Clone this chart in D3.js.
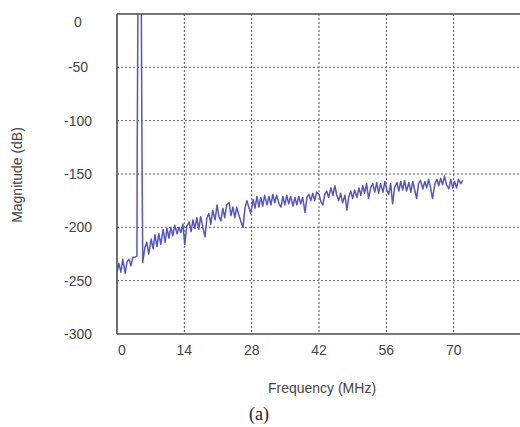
<!DOCTYPE html>
<html>
<head>
<meta charset="utf-8">
<script src="https://cdn.jsdelivr.net/npm/d3@7"></script>
<style>
  html, body { margin: 0; padding: 0; background: #fff; }
  svg { display: block; }
</style>
</head>
<body>
<svg id="chart" width="520" height="427"></svg>
<script>
// ---- data ----
const xTicks = [0, 14, 28, 42, 56, 70];
const yTicks = [0, -50, -100, -150, -200, -250, -300];
const xTitle = "Frequency (MHz)";
const yTitle = "Magnitude (dB)";
const caption = "(a)";

// spectrum: frequency (MHz) and magnitude (dB)
const freq = [
  0, 0.4, 0.8, 1.2, 1.7, 2.1, 2.5, 2.9, 3.3, 3.7, 4.15,
  4.2, 4.35, 5.05, 5.2, 5.35,
  5.4, 5.8, 6.2, 6.6, 7.1, 7.5, 7.9, 8.3, 8.7, 9.1, 9.6, 10.0, 10.4, 10.8, 11.2, 11.6, 12.0, 12.5, 12.9, 13.3, 13.7,
  14.1, 14.5, 15.0, 15.4, 15.8, 16.2, 16.6, 17.0, 17.4, 17.9, 18.3, 18.7, 19.1, 19.5, 19.9, 20.4, 20.8, 21.2, 21.6,
  22.0, 22.4, 22.8, 23.3, 23.7, 24.1, 24.5, 24.9, 25.3, 25.8, 26.2, 26.6, 27.0, 27.4, 27.8,
  28.3, 28.7, 29.1, 29.5, 29.9, 30.3, 30.7, 31.2, 31.6, 32.0, 32.4, 32.8, 33.2, 33.7, 34.1, 34.5, 34.9,
  35.3, 35.7, 36.1, 36.6, 37.0, 37.4, 37.8, 38.2, 38.6, 39.1, 39.5, 39.9, 40.3, 40.7, 41.1, 41.5,
  42.0, 42.4, 42.8, 43.2, 43.6, 44.0, 44.5, 44.9, 45.3, 45.7, 46.1, 46.5, 46.9, 47.4, 47.8, 48.2, 48.6,
  49.0, 49.4, 49.9, 50.3, 50.7, 51.1, 51.5, 51.9, 52.3, 52.8, 53.2, 53.6, 54.0, 54.4, 54.8, 55.3, 55.7,
  56.1, 56.5, 56.9, 57.3, 57.7, 58.2, 58.6, 59.0, 59.4, 59.8, 60.2, 60.7, 61.1, 61.5, 61.9, 62.3, 62.7,
  63.1, 63.6, 64.0, 64.4, 64.8, 65.2, 65.6, 66.1, 66.5, 66.9, 67.3, 67.7, 68.1, 68.5, 69.0, 69.4, 69.8,
  70.2, 70.6, 71.0, 71.5, 71.9
];
const magnitude = [
  -242, -234, -242, -230, -243, -232, -230, -236, -228, -228, -227,
  -130, 8, 8, -130, -233,
  -231, -219, -214, -225, -211, -220, -207, -218, -206, -216, -202, -214, -201, -210, -200, -208, -198, -206, -200, -205, -197,
  -216, -199, -195, -204, -193, -201, -191, -202, -190, -201, -209, -191, -187, -197, -184, -193, -179, -190, -194,
  -182, -191, -179, -177, -189, -181, -191, -181, -188, -195, -200, -182, -175, -181, -187,
  -174, -182, -171, -181, -172, -180, -170, -179, -171, -179, -169, -177, -170, -178, -181, -171, -179,
  -170, -178, -171, -180, -172, -179, -171, -178, -172, -186, -172, -169, -175, -168, -175, -167,
  -169, -176, -179, -169, -166, -172, -163, -170, -161, -170, -175, -168, -177, -170, -184, -171, -166,
  -173, -165, -172, -163, -170, -161, -168, -159, -173, -162, -159, -167, -158, -168, -159, -167, -157,
  -165, -169, -159, -178, -163, -158, -166, -157, -165, -156, -166, -158, -167, -157, -165, -173, -159,
  -156, -164, -157, -163, -155, -163, -173, -159, -155, -161, -154, -160, -152, -160, -164, -155, -163,
  -157, -163, -155, -159, -156
];

// ---- layout ----
const svg = d3.select("#chart");
const mLeft = 117, mTop = 14, mBottom = 334, mRight = 521;

const x = d3.scaleLinear().domain([0, 84]).range([mLeft, mRight]);
const y = d3.scaleLinear().domain([-300, 0]).range([mBottom, mTop]);

svg.append("defs").append("clipPath").attr("id", "plotclip")
  .append("rect").attr("x", mLeft).attr("y", mTop)
  .attr("width", mRight - mLeft).attr("height", mBottom - mTop);

// grid lines
const grid = svg.append("g");
grid.selectAll("line.vx").data(xTicks.filter(d => d > 0)).join("line")
  .attr("x1", d => x(d)).attr("x2", d => x(d))
  .attr("y1", mTop).attr("y2", mBottom)
  .attr("stroke", "#5a5a5a").attr("stroke-width", 1)
  .attr("stroke-dasharray", "2,2");
grid.selectAll("line.hy").data(yTicks.filter(d => d > -300 && d < 0)).join("line")
  .attr("x1", mLeft).attr("x2", mRight)
  .attr("y1", d => y(d)).attr("y2", d => y(d))
  .attr("stroke", "#5a5a5a").attr("stroke-width", 1)
  .attr("stroke-dasharray", "2,2");

// data line
const pts = freq.map((f, i) => [f, magnitude[i]]);
svg.append("path")
  .datum(pts)
  .attr("clip-path", "url(#plotclip)")
  .attr("fill", "none")
  .attr("stroke", "#5555c8")
  .attr("stroke-width", 1.5)
  .attr("stroke-linejoin", "round")
  .attr("d", d3.line().x(d => x(d[0])).y(d => y(d[1])));

// frame
const frame = svg.append("g").attr("stroke", "#4a4a4a").attr("stroke-width", 1.6);
frame.append("line").attr("x1", mLeft).attr("x2", mLeft).attr("y1", mTop).attr("y2", mBottom);
frame.append("line").attr("x1", mLeft).attr("x2", mRight).attr("y1", mBottom).attr("y2", mBottom);
frame.append("line").attr("x1", mLeft).attr("x2", mRight).attr("y1", mTop).attr("y2", mTop);

// tick labels
const font = "Liberation Sans, Arial, sans-serif";
svg.append("g").selectAll("text").data(yTicks).join("text")
  .attr("x", 78)
  .attr("y", d => d === 0 ? y(d) + 8 : y(d))
  .attr("dy", "0.35em")
  .attr("text-anchor", "middle")
  .attr("font-family", font).attr("font-size", 14)
  .attr("fill", "#444")
  .text(d => d);

svg.append("g").selectAll("text").data(xTicks).join("text")
  .attr("x", d => d === 0 ? x(d) + 5 : x(d))
  .attr("y", 350)
  .attr("dy", "0.35em")
  .attr("text-anchor", "middle")
  .attr("font-family", font).attr("font-size", 14)
  .attr("fill", "#444")
  .text(d => d);

// axis titles
svg.append("text")
  .attr("x", 322).attr("y", 388).attr("dy", "0.35em")
  .attr("text-anchor", "middle")
  .attr("font-family", font).attr("font-size", 14)
  .attr("fill", "#444")
  .text(xTitle);

svg.append("text")
  .attr("transform", "translate(17,175) rotate(-90)")
  .attr("dy", "0.35em")
  .attr("text-anchor", "middle")
  .attr("font-family", font).attr("font-size", 14)
  .attr("fill", "#444")
  .text(yTitle);

svg.append("text")
  .attr("x", 259).attr("y", 414).attr("dy", "0.35em")
  .attr("text-anchor", "middle")
  .attr("font-family", "Liberation Serif, Times New Roman, serif").attr("font-size", 18)
  .attr("fill", "#222")
  .text(caption);
</script>
</body>
</html>
